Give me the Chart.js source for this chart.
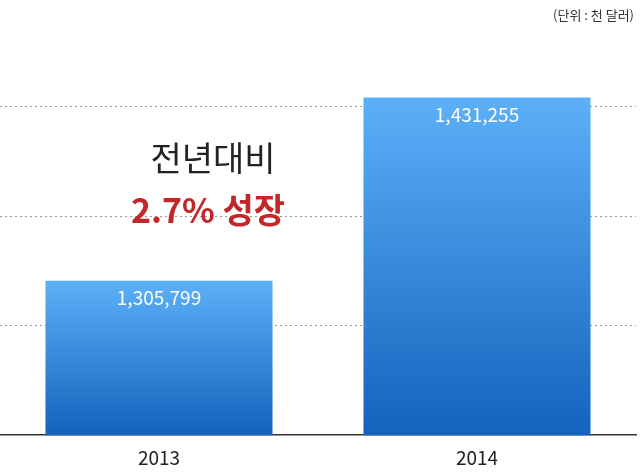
<!DOCTYPE html>
<html><head><meta charset="utf-8">
<script src="https://cdn.jsdelivr.net/npm/chart.js@4"></script>
<style>html,body{margin:0;padding:0;background:#fff}#w{width:640px;height:472px}</style>
</head><body><div id="w"><canvas id="c"></canvas></div>
<script>
const categories = ["2013", "2014"];
const values = [1305799, 1431255];
const valueLabels = ["1,305,799", "1,431,255"];
const gridValues = [1275000, 1350000, 1425000];
const unitText = "(단위 : 천 달러)";
const noteLines = ["전년대비", "2.7% 성장"];
const F = "'Noto Sans CJK KR','Noto Sans',sans-serif";

const textPlugin = {
  id: 'txt',
  afterDatasetsDraw(chart) {
    const ctx = chart.ctx;
    const meta = chart.getDatasetMeta(0);
    ctx.save();
    ctx.textAlign = 'center'; ctx.textBaseline = 'middle';
    ctx.fillStyle = '#fff'; ctx.font = '19px ' + F;
    meta.data.forEach((b, i) => ctx.fillText(valueLabels[i], b.x, b.y + 17));
    ctx.fillStyle = '#222'; ctx.font = '34px ' + F;
    ctx.fillText(noteLines[0], 213, 158);
    ctx.fillStyle = '#c2282a'; ctx.font = 'bold 34px ' + F;
    ctx.fillText(noteLines[1], 208, 210);
    ctx.fillStyle = '#333'; ctx.font = '13px ' + F; ctx.textAlign = 'right';
    ctx.fillText(unitText, 634, 15);
    ctx.restore();
  }
};

new Chart(document.getElementById('c'), {
  type: 'bar',
  data: { labels: categories, datasets: [{
    data: values,
    backgroundColor: (c) => {
      const a = c.chart.chartArea;
      const ys = c.chart.scales.y;
      if (!a || !ys || c.parsed == null) return '#3b8ee0';
      const top = ys.getPixelForValue(c.parsed.y);
      const g = c.chart.ctx.createLinearGradient(0, top, 0, a.bottom);
      g.addColorStop(0, '#5cb0f8'); g.addColorStop(1, '#1462bd');
      return g;
    },
    barPercentage: 0.714, categoryPercentage: 1
  }]},
  plugins: [textPlugin],
  options: {
    responsive: true, maintainAspectRatio: false, animation: false,
    layout: { padding: { top: 41, left: 0, right: 4, bottom: 0 } },
    plugins: { legend: { display: false }, tooltip: { enabled: false } },
    scales: {
      x: {
        grid: { display: false },
        border: { display: true, color: '#333', width: 1.5 },
        ticks: { color: '#222', font: { size: 19, family: F }, padding: 3 }
      },
      y: {
        display: true, min: 1200000, max: 1470000,
        afterBuildTicks: (s) => { s.ticks = gridValues.map(v => ({ value: v })); },
        ticks: { display: false },
        border: { display: false, dash: [2, 3] },
        grid: { color: '#9a9a9a', drawTicks: false }
      }
    }
  }
});
</script></body></html>
